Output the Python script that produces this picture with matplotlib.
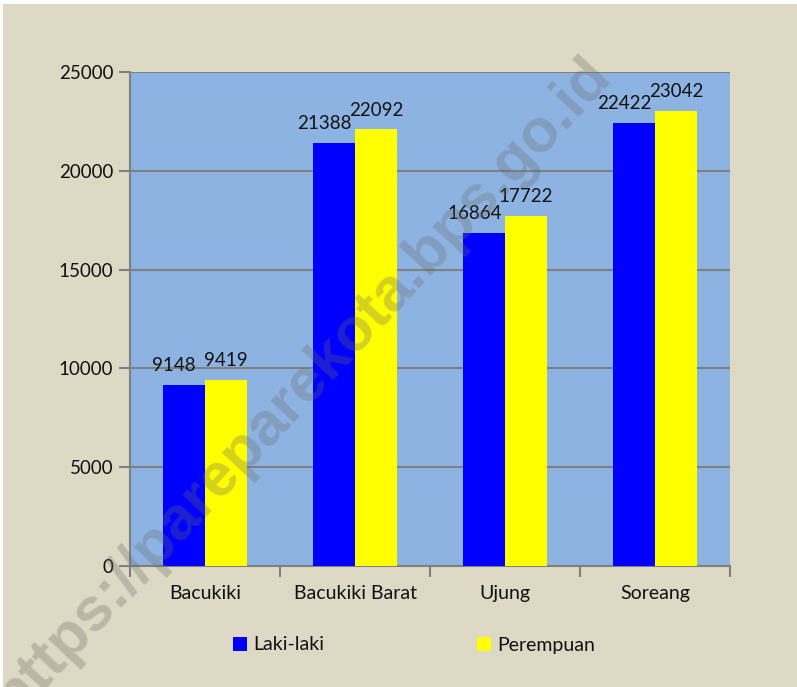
import matplotlib.pyplot as plt
import matplotlib.patches as mpatches
import numpy as np

plt.rcParams['font.family'] = ['Lato', 'DejaVu Sans']

kelurahan = ['Bacukiki', 'Bacukiki Barat', 'Ujung', 'Soreang']
laki = [9148, 21388, 16864, 22422]
perempuan = [9419, 22092, 17722, 23042]
yticks = [0, 5000, 10000, 15000, 20000, 25000]

bg = '#DDD9C4'
fig = plt.figure(figsize=(7.97, 6.87), dpi=100, facecolor=bg)
# thin white edge at top and left like the source
fig.patches.append(mpatches.Rectangle((0, 1 - 4 / 687), 1, 4 / 687, transform=fig.transFigure,
                                      facecolor='white', edgecolor='none'))
fig.patches.append(mpatches.Rectangle((0, 0), 3 / 797, 1, transform=fig.transFigure,
                                      facecolor='white', edgecolor='none'))
ax = fig.add_axes([130 / 797, 1 - 566 / 687, 600 / 797, 494 / 687])
ax.set_zorder(2)
ax.set_facecolor('#8DB3E2')

x = np.arange(len(kelurahan))
w = 0.28
b1 = ax.bar(x - w / 2, laki, w, color='#0000FF', label='Laki-laki', zorder=3)
b2 = ax.bar(x + w / 2, perempuan, w, color='#FFFF00', label='Perempuan', zorder=3)

for xi, v in zip(x, laki):
    ax.annotate(str(v), (xi - w / 2, v), xytext=(-7, 10), textcoords='offset points',
                ha='center', va='baseline', fontsize=13.5, color='#111111', zorder=4)
for xi, v in zip(x, perempuan):
    ax.annotate(str(v), (xi + w / 2, v), xytext=(0, 10), textcoords='offset points',
                ha='center', va='baseline', fontsize=13.5, color='#111111', zorder=4)

ax.set_xlim(-0.5, len(kelurahan) - 0.5)
ax.set_ylim(0, 25000)
ax.set_yticks(yticks)
ax.set_yticklabels([str(t) for t in yticks], fontsize=13.5, color='#111111')
ax.yaxis.grid(True, color='#808080', linewidth=1.5, zorder=1)
ax.set_axisbelow(True)

# categories between tick marks at the group boundaries
ax.set_xticks(np.arange(-0.5, len(kelurahan), 1.0))
ax.set_xticklabels([])
ax.set_xticks(x, minor=True)
ax.set_xticklabels(kelurahan, minor=True, fontsize=14, color='#111111')
ax.tick_params(axis='x', which='minor', length=0, pad=14)
ax.tick_params(axis='x', which='major', length=8, width=1.5, color='#808080', direction='out')
ax.tick_params(axis='y', length=8, width=1.5, color='#808080', direction='out', pad=4)

for s in ['top', 'right']:
    ax.spines[s].set_visible(False)
for s in ['left', 'bottom']:
    ax.spines[s].set_color('#808080')
    ax.spines[s].set_linewidth(1.5)

leg = fig.legend(handles=[b1, b2], loc='center', bbox_to_anchor=(414 / 797, 1 - 645 / 687),
                 ncol=2, frameon=False, fontsize=14, handlelength=0.7, handleheight=0.7,
                 handletextpad=0.3, columnspacing=7.9)
for t in leg.get_texts():
    t.set_color('#111111')

wm = fig.text(303 / 797, 1 - 386 / 687, 'https://pareparekota.bps.go.id', rotation=47,
              ha='center', va='center', fontsize=44, fontweight='bold',
              family='Liberation Sans', color='#6a6a6a', alpha=0.3, zorder=10)

fig.savefig('out.png', dpi=100, facecolor=fig.get_facecolor())
